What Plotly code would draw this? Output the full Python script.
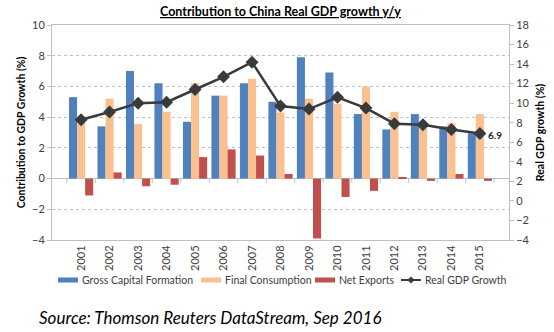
import plotly.graph_objects as go

years = [str(y) for y in range(2001, 2016)]
gross_capital = [5.3, 3.4, 7.0, 6.2, 3.7, 5.4, 6.2, 5.0, 7.9, 6.9, 4.2, 3.2, 4.2, 3.4, 2.95]
final_consumption = [3.8, 5.2, 3.55, 4.35, 6.2, 5.4, 6.5, 4.3, 5.2, 4.85, 6.0, 4.35, 3.7, 3.6, 4.2]
net_exports = [-1.1, 0.4, -0.5, -0.4, 1.4, 1.9, 1.5, 0.3, -3.9, -1.2, -0.8, 0.1, -0.15, 0.3, -0.15]
real_gdp = [8.3, 9.1, 10.0, 10.1, 11.4, 12.7, 14.2, 9.7, 9.4, 10.6, 9.5, 7.9, 7.8, 7.3, 6.9]

series_names = ["Gross Capital Formation", "Final Consumption", "Net Exports", "Real GDP Growth"]
colors = ["#4F81BD", "#FAC090", "#C0504D", "#3A3A3A"]

FONT = "Lato"
TXT = "#404040"
GRID = "#BFBFBF"

W, H = 554, 332
ML, MR, MT, MB = 52, 45, 25, 92
PW, PH = W - ML - MR, H - MT - MB


def px_x(x):
    return (x - ML) / PW


def px_y(y):
    return (H - MB - y) / PH


fig = go.Figure()
for vals, name, col in zip([gross_capital, final_consumption, net_exports], series_names, colors):
    fig.add_trace(go.Bar(x=years, y=vals, name=name, marker=dict(color=col, line=dict(width=0))))
fig.add_trace(go.Scatter(x=years, y=real_gdp, name=series_names[3], yaxis="y2",
                         mode="lines+markers",
                         line=dict(color=colors[3], width=2.5),
                         marker=dict(symbol="diamond", size=10, color=colors[3])))

# category tick marks along the zero line
for i in range(len(years) + 1):
    fig.add_shape(type="line", xref="x", yref="y", x0=i - 0.5, x1=i - 0.5, y0=0, y1=-0.28,
                  line=dict(color=GRID, width=1), layer="below")

# value label on the latest GDP point
fig.add_annotation(x=len(years) - 1, y=real_gdp[-1], xref="x", yref="y2",
                   text=f"<b>{real_gdp[-1]:.1f}</b>",
                   showarrow=False, xanchor="left", xshift=6, yshift=-2,
                   font=dict(family=FONT, size=10, color="#262626"))

fig.add_annotation(xref="paper", yref="paper", x=0.5, y=1, yshift=14,
                   text="<b><u>Contribution to China Real GDP growth y/y</u></b>",
                   showarrow=False, xanchor="center", yanchor="middle",
                   font=dict(family=FONT, size=12.5, color="#000000"))

fig.add_annotation(xref="paper", yref="paper", x=px_x(37), y=px_y(317), xanchor="left", yanchor="middle",
                   text="<i>Source: Thomson Reuters DataStream, Sep 2016</i>",
                   showarrow=False, font=dict(family=FONT, size=17, color="#000000"))

# single-row legend drawn below the axis
legend_y = 280
swatch_x = [58, 201, 315, 401]
for i, (name, col) in enumerate(zip(series_names, colors)):
    x0 = swatch_x[i]
    x1 = x0 + 20
    if i < 3:
        fig.add_shape(type="rect", xref="paper", yref="paper",
                      x0=px_x(x0), x1=px_x(x1), y0=px_y(legend_y + 2.5), y1=px_y(legend_y - 2.5),
                      fillcolor=col, line=dict(width=0))
    else:
        fig.add_shape(type="line", xref="paper", yref="paper",
                      x0=px_x(x0), x1=px_x(x1), y0=px_y(legend_y), y1=px_y(legend_y),
                      line=dict(color=col, width=2))
        cx = (x0 + x1) / 2
        fig.add_shape(type="path", xref="paper", yref="paper",
                      path=(f"M {px_x(cx - 3.5)} {px_y(legend_y)} L {px_x(cx)} {px_y(legend_y - 3.5)} "
                            f"L {px_x(cx + 3.5)} {px_y(legend_y)} L {px_x(cx)} {px_y(legend_y + 3.5)} Z"),
                      fillcolor=col, line=dict(width=0))
    fig.add_annotation(xref="paper", yref="paper", x=px_x(x1 + 2), y=px_y(legend_y),
                       xanchor="left", yanchor="middle", showarrow=False, text=name,
                       font=dict(family=FONT, size=10.5, color=TXT))

fig.update_layout(
    width=W, height=H,
    margin=dict(l=ML, r=MR, t=MT, b=MB, autoexpand=False),
    paper_bgcolor="white", plot_bgcolor="white",
    barmode="group", bargap=0.15, bargroupgap=0.0,
    font=dict(family=FONT, size=11, color=TXT),
    showlegend=False,
    xaxis=dict(type="category", categoryorder="array", categoryarray=years,
               tickangle=-90, showgrid=False, showline=True,
               linecolor=GRID, linewidth=1, mirror=True, ticks="",
               tickfont=dict(family=FONT, size=11, color=TXT)),
    yaxis=dict(range=[-4, 10], dtick=2, showgrid=True, gridcolor=GRID, griddash="dot",
               zeroline=True, zerolinecolor=GRID, zerolinewidth=1,
               showline=True, linecolor=GRID, ticks="outside", ticklen=4, tickcolor=GRID,
               tickfont=dict(family=FONT, size=11, color=TXT),
               title=dict(text="<b>Contribution to GDP Growth (%)</b>",
                          font=dict(family=FONT, size=10.5, color="#000000"), standoff=4)),
    yaxis2=dict(range=[-4, 18], dtick=2, overlaying="y", side="right", showgrid=False,
                zeroline=False, showline=True, linecolor=GRID, ticks="outside", ticklen=4,
                tickcolor=GRID, tickfont=dict(family=FONT, size=11, color=TXT),
                title=dict(text="<b>Real GDP growth (%)</b>",
                           font=dict(family=FONT, size=10.5, color="#000000"), standoff=8)),
)

fig.write_html("out.html")
